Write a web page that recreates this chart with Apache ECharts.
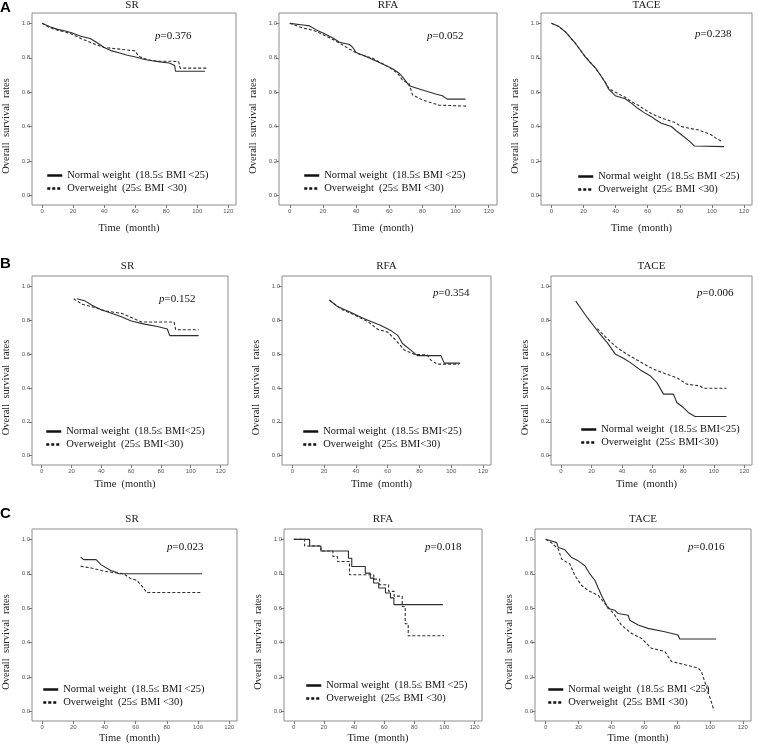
<!DOCTYPE html>
<html>
<head>
<meta charset="utf-8">
<title>Overall survival by BMI group</title>
<script src="https://cdn.jsdelivr.net/npm/echarts@6/dist/echarts.min.js"></script>
<style>
  html, body { margin: 0; padding: 0; background: #fff; }
  #chart { width: 758px; height: 746px; }
</style>
</head>
<body>
<div id="chart"></div>
<script>
//begin data
var rowLetters = ['A', 'B', 'C'];
var panelTitles = ['SR', 'RFA', 'TACE'];
var pValues = ['0.376', '0.052', '0.238', '0.152', '0.354', '0.006', '0.023', '0.018', '0.016'];
var legendA = ['Normal weight  (18.5\u2264 BMI <25)', 'Overweight  (25\u2264 BMI <30)'];
var legendB = ['Normal weight  (18.5\u2264 BMI<25)', 'Overweight  (25\u2264 BMI<30)'];
var legendC = ['Normal weight  (18.5\u2264 BMI <25)', 'Overweight  (25\u2264 BMI <30)'];
var xTicks = [0, 20, 40, 60, 80, 100, 120];
var yTicks = [0, 0.2, 0.4, 0.6, 0.8, 1.0];
var xName = 'Time  (month)';
var yName = 'Overall  survival  rates';

// row A  [month, survival]
var aSrNormal = [[0,1.0],[5,0.98],[10,0.965],[15,0.955],[19,0.945],[25,0.925],[31,0.912],[35,0.89],[40,0.86],[45,0.84],[50,0.828],[55,0.815],[61,0.803],[66,0.79],[71,0.783],[76,0.776],[82,0.77],[85.5,0.755],[86,0.722],[105,0.722]];
var aSrOver = [[0,1.0],[5,0.975],[10,0.96],[15,0.95],[19,0.938],[25,0.912],[31,0.89],[35,0.875],[40,0.86],[45,0.855],[50,0.85],[55,0.845],[60,0.84],[62,0.81],[66,0.795],[71,0.783],[76,0.78],[82,0.78],[88,0.778],[89,0.74],[107,0.74]];
var aRfaNormal = [[0,1.0],[8,0.99],[12,0.985],[16,0.962],[21,0.94],[26,0.915],[30,0.89],[36,0.877],[38,0.86],[40,0.83],[46,0.807],[51,0.785],[56,0.764],[62,0.736],[66,0.71],[68,0.689],[72,0.638],[80,0.613],[88,0.59],[92,0.579],[95,0.56],[106,0.56]];
var aRfaOver = [[0,1.0],[8,0.972],[12,0.965],[16,0.953],[21,0.93],[26,0.906],[31,0.88],[36,0.85],[42,0.82],[50,0.797],[55,0.77],[60,0.745],[65,0.71],[68,0.67],[72,0.65],[74,0.585],[80,0.555],[85,0.54],[90,0.525],[107,0.519]];
var aTaceNormal = [[0,1.0],[4.7,0.981],[8.9,0.949],[12,0.915],[15,0.883],[18,0.845],[21,0.807],[24,0.775],[27.4,0.741],[30.5,0.7],[33.6,0.656],[35.6,0.618],[39.8,0.58],[45.9,0.562],[50,0.535],[54,0.505],[58,0.48],[62.3,0.458],[65,0.44],[68.5,0.42],[74.7,0.401],[78,0.375],[81,0.353],[86,0.316],[89,0.288],[107.6,0.284]];
var aTaceOver = [[0,1.0],[4.7,0.981],[8.9,0.949],[12,0.915],[15,0.883],[18,0.845],[21,0.807],[24,0.775],[27.4,0.741],[30.5,0.7],[33.6,0.656],[36,0.62],[39.8,0.6],[45.9,0.571],[50,0.545],[54.1,0.524],[58,0.5],[62.3,0.476],[66,0.46],[70.5,0.444],[76.7,0.425],[80.9,0.401],[86,0.39],[91.2,0.382],[95,0.37],[99.5,0.353],[103,0.33],[106.7,0.312]];

// row B
var bSrNormal = [[23.8,0.926],[29.3,0.912],[33.7,0.887],[40.3,0.86],[46.9,0.84],[53.5,0.82],[60.1,0.795],[68.9,0.776],[77.7,0.762],[84.3,0.747],[85.9,0.708],[105.3,0.708]];
var bSrOver = [[21.5,0.926],[27.1,0.893],[35.9,0.874],[42.5,0.854],[53.5,0.84],[60.1,0.815],[66.8,0.789],[88.8,0.789],[89.9,0.743],[105.3,0.743]];
var bRfaNormal = [[23.4,0.917],[28.7,0.878],[37,0.845],[43.1,0.816],[49.4,0.791],[55.8,0.768],[61.9,0.739],[66.3,0.71],[69.3,0.662],[74.5,0.623],[78.7,0.59],[93.5,0.59],[95.6,0.546],[105.6,0.546]];
var bRfaOver = [[23.4,0.917],[30.7,0.865],[39.1,0.83],[47.5,0.791],[53.8,0.745],[60,0.729],[64.2,0.69],[70.5,0.623],[76.8,0.598],[84.9,0.594],[87,0.565],[91.2,0.54],[105,0.54]];
var bTaceNormal = [[9.7,0.912],[17.3,0.814],[24.9,0.725],[30.3,0.667],[35.7,0.598],[41.1,0.573],[45.5,0.549],[51.9,0.506],[58.4,0.471],[62.8,0.431],[67.1,0.363],[73.6,0.363],[75.8,0.314],[80.1,0.284],[83.3,0.255],[87.7,0.231],[108.3,0.231]];
var bTaceOver = [[23.8,0.75],[30.3,0.69],[36.8,0.637],[43.3,0.598],[51.9,0.553],[60.6,0.51],[69.3,0.48],[75.8,0.46],[82.3,0.422],[90.9,0.412],[93,0.398],[108.3,0.398]];

// row C
var cSrNormal = [[24.7,0.897],[26.6,0.882],[34.6,0.882],[37.7,0.853],[44,0.819],[47.1,0.81],[49.4,0.8],[102.6,0.8]];
var cSrOver = [[24.7,0.843],[31.4,0.834],[39.8,0.815],[52.3,0.8],[56.5,0.773],[60.7,0.762],[64.9,0.72],[67,0.691],[102.6,0.691]];
var cRfaNormal = [[0,1.0],[10.5,0.961],[18,0.932],[36.3,0.89],[38.5,0.842],[47.5,0.804],[50.8,0.775],[53,0.746],[56.4,0.717],[60.9,0.688],[64.2,0.66],[66.5,0.621],[99,0.621]];
var cRfaOver = [[0,1.0],[7.2,0.961],[18,0.932],[26,0.9],[29,0.871],[37,0.794],[53.1,0.769],[57,0.736],[63,0.698],[66.6,0.67],[72,0.61],[74,0.51],[76,0.44],[99.8,0.44]];
var cTaceNormal = [[0,1.0],[3.6,0.99],[6.7,0.981],[7.7,0.952],[11.7,0.939],[15.8,0.894],[19.8,0.875],[23.9,0.847],[26.9,0.799],[30,0.761],[34,0.674],[38,0.598],[42.1,0.588],[44.1,0.569],[50.2,0.559],[51.2,0.53],[56.3,0.502],[62.3,0.483],[72.5,0.463],[80.6,0.444],[81.6,0.421],[103.8,0.421]];
var cTaceOver = [[0,1.0],[3.6,0.98],[7.7,0.943],[9.7,0.885],[14.8,0.856],[17.8,0.789],[21.9,0.732],[25.9,0.703],[32,0.674],[38,0.607],[42.1,0.559],[46.1,0.502],[52.2,0.454],[58.3,0.425],[64.3,0.368],[72.5,0.349],[76.5,0.291],[84.6,0.272],[92.7,0.253],[94.7,0.235],[97,0.17],[99,0.11],[101,0.05],[102.5,0.005]];
//end data

//begin layout (pixels)
var rows = [
	{ letterTop: 0,   titleTop: 0,   nameGap: 18, legend: legendA },
	{ letterTop: 256, titleTop: 261, nameGap: 14, legend: legendB },
	{ letterTop: 506, titleTop: 514, nameGap: 12, legend: legendC }
];
var panels = [
	{ row: 0, left: 28,  top: 13,  width: 208, height: 192, lgLeft: 46,  lgTop: 170, pLeft: 155, pTop: 31,  normal: aSrNormal,   over: aSrOver },
	{ row: 0, left: 279, top: 13,  width: 218, height: 192, lgLeft: 303, lgTop: 170, pLeft: 427, pTop: 31,  normal: aRfaNormal,  over: aRfaOver },
	{ row: 0, left: 541, top: 13,  width: 211, height: 192, lgLeft: 577, lgTop: 171, pLeft: 695, pTop: 29,  normal: aTaceNormal, over: aTaceOver },
	{ row: 1, left: 27,  top: 276, width: 201, height: 189, lgLeft: 45,  lgTop: 426, pLeft: 159, pTop: 294, normal: bSrNormal,   over: bSrOver },
	{ row: 1, left: 282, top: 276, width: 209, height: 189, lgLeft: 302, lgTop: 426, pLeft: 433, pTop: 288, normal: bRfaNormal,  over: bRfaOver },
	{ row: 1, left: 551, top: 276, width: 201, height: 189, lgLeft: 580, lgTop: 424, pLeft: 697, pTop: 288, normal: bTaceNormal, over: bTaceOver },
	{ row: 2, left: 27,  top: 529, width: 210, height: 192, lgLeft: 42,  lgTop: 684, pLeft: 167, pTop: 542, normal: cSrNormal,   over: cSrOver },
	{ row: 2, left: 284, top: 529, width: 198, height: 192, lgLeft: 305, lgTop: 680, pLeft: 425, pTop: 542, normal: cRfaNormal,  over: cRfaOver, step: true },
	{ row: 2, left: 535, top: 529, width: 216, height: 192, lgLeft: 547, lgTop: 684, pLeft: 688, pTop: 542, normal: cTaceNormal, over: cTaceOver }
];
//end layout

var serif = 'Liberation Serif';
var lineColor = '#2e2e2e';
var clear = 'rgba(0,0,0,0)';

var grids = [], xAxes = [], yAxes = [], series = [], legends = [], titles = [];

rows.forEach(function (r, i) {
	titles.push({
		text: rowLetters[i], left: 0, top: r.letterTop,
		textStyle: { fontFamily: 'Liberation Sans', fontSize: 15, fontWeight: 'bold', color: '#000' },
		padding: 0
	});
});

panels.forEach(function (p, i) {
	var r = rows[p.row];

	grids.push({
		left: p.left, top: p.top, width: p.width, height: p.height,
		show: true, borderColor: '#8c8c8c', borderWidth: 1, backgroundColor: 'transparent'
	});

	xAxes.push({
		gridIndex: i, type: 'value', min: -6.5, max: 125,
		name: xName, nameLocation: 'middle', nameGap: r.nameGap,
		nameTextStyle: { fontFamily: serif, fontSize: 10.5, color: '#222', padding: [0, 10, 0, 0] },
		axisLine: { show: false, onZero: false },
		axisTick: { show: true, customValues: xTicks, length: 3, lineStyle: { color: '#777' } },
		axisLabel: { customValues: xTicks, fontSize: 6, color: '#555', margin: 3, fontFamily: 'Liberation Sans' },
		splitLine: { show: false }
	});

	yAxes.push({
		gridIndex: i, type: 'value', min: -0.055, max: 1.06,
		name: yName, nameLocation: 'middle', nameGap: 20,
		nameTextStyle: { fontFamily: serif, fontSize: 10.5, color: '#222', padding: [0, 34, 0, 0] },
		axisLine: { show: false, onZero: false },
		axisTick: { show: true, customValues: yTicks, length: 3, lineStyle: { color: '#777' } },
		axisLabel: {
			customValues: yTicks, fontSize: 6, color: '#555', margin: 2, fontFamily: 'Liberation Sans',
			formatter: function (v) { return v.toFixed(1); }
		},
		splitLine: { show: false }
	});

	series.push({
		type: 'line', name: r.legend[0], xAxisIndex: i, yAxisIndex: i,
		data: p.normal, symbol: 'none', step: p.step ? 'end' : false, silent: true,
		lineStyle: { color: lineColor, width: 1.1, type: 'solid' },
		itemStyle: { color: lineColor }
	});
	series.push({
		type: 'line', name: r.legend[1], xAxisIndex: i, yAxisIndex: i,
		data: p.over, symbol: 'none', step: p.step ? 'end' : false, silent: true,
		lineStyle: { color: lineColor, width: 1.1, type: [3, 2] },
		itemStyle: { color: lineColor }
	});

	legends.push({
		orient: 'vertical', left: p.lgLeft, top: p.lgTop, padding: 0,
		itemWidth: 15, itemHeight: 10, itemGap: 2, selectedMode: false,
		data: r.legend,
		itemStyle: { color: clear, borderColor: clear, borderWidth: 0, opacity: 0 },
		lineStyle: { width: 2.5, color: '#111' },
		textStyle: { fontFamily: serif, fontSize: 10.5, color: '#111' }
	});

	titles.push({
		text: panelTitles[i % 3], left: p.left + p.width / 2, top: r.titleTop,
		textAlign: 'center', padding: 0,
		textStyle: { fontFamily: serif, fontSize: 11, fontWeight: 'normal', color: '#222' }
	});
	titles.push({
		text: '{i|p}=' + pValues[i], left: p.pLeft, top: p.pTop, padding: 0,
		textStyle: {
			fontFamily: serif, fontSize: 11, fontWeight: 'normal', color: '#111',
			rich: { i: { fontFamily: serif, fontSize: 11, fontStyle: 'italic', color: '#111' } }
		}
	});
});

//begin chart
var myChart = echarts.init(document.getElementById('chart'));
myChart.setOption({
	animation: false,
	backgroundColor: '#fff',
	title: titles,
	legend: legends,
	grid: grids,
	xAxis: xAxes,
	yAxis: yAxes,
	series: series
});
//end chart
</script>
</body>
</html>
